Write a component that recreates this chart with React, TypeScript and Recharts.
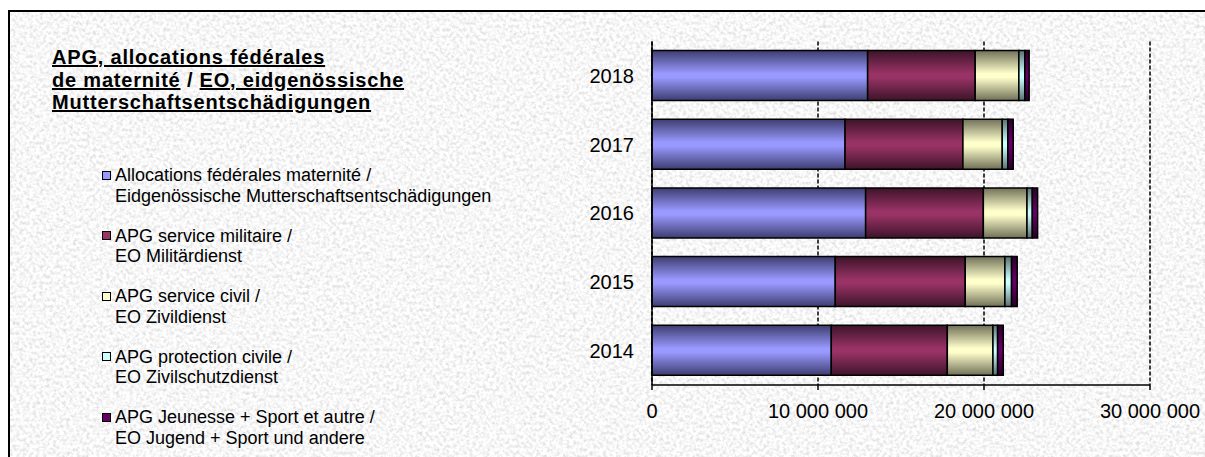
import React from "react";
import { BarChart, Bar, XAxis, YAxis, CartesianGrid } from "recharts";

const years = ["2018", "2017", "2016", "2015", "2014"];
const maternite = [12990000, 11630000, 12870000, 11040000, 10800000];
const militaire = [6480000, 7100000, 7090000, 7830000, 6990000];
const civil = [2630000, 2370000, 2630000, 2390000, 2750000];
const protection = [360000, 340000, 320000, 400000, 280000];
const jeunesse = [260000, 320000, 320000, 340000, 340000];
const xTicks = [0, 10000000, 20000000, 30000000];

const titleLines = [
  ["APG, allocations fédérales"],
  ["de maternité", "EO, eidgenössische"],
  ["Mutterschaftsentschädigungen"],
];

const series = [
  { key: "maternite", values: maternite, color: "#9999ff", dark: "#3d3d70", label1: "Allocations fédérales maternité /", label2: "Eidgenössische Mutterschaftsentschädigungen" },
  { key: "militaire", values: militaire, color: "#993366", dark: "#3d1429", label1: "APG service militaire /", label2: "EO Militärdienst" },
  { key: "civil", values: civil, color: "#ffffcc", dark: "#707058", label1: "APG service civil /", label2: "EO Zivildienst" },
  { key: "protection", values: protection, color: "#ccffff", dark: "#587070", label1: "APG protection civile /", label2: "EO Zivilschutzdienst" },
  { key: "jeunesse", values: jeunesse, color: "#660066", dark: "#290029", label1: "APG Jeunesse + Sport et autre /", label2: "EO Jugend + Sport und andere" },
];

const data = years.map((y, i) => {
  const row: Record<string, string | number> = { year: y };
  series.forEach((s) => {
    row[s.key] = s.values[i];
  });
  return row;
});

const fmt = (v: number) => String(Math.round(v)).replace(/\B(?=(\d{3})+(?!\d))/g, " ");

const FONT = "'Liberation Sans', Arial, sans-serif";

export default function App() {
  return (
    <div style={{ position: "fixed", left: 0, top: 0, width: 1300, height: 520, overflow: "hidden", fontFamily: FONT, background: "#fff" }}>
      <style>{`html,body{overflow:hidden;}`}</style>
      <div
        style={{
          position: "absolute",
          left: 8,
          top: 10,
          width: 1280,
          height: 500,
          borderTop: "2px solid #000",
          borderLeft: "2px solid #000",
          boxSizing: "border-box",
          overflow: "hidden",
          background: "#e9e9e9",
        }}
      >
        <svg width={1280} height={500} style={{ position: "absolute", left: 0, top: 0, display: "block" }}>
          <defs>
            <filter id="granite" x="0" y="0" width="1" height="1" filterUnits="objectBoundingBox">
              <feTurbulence type="fractalNoise" baseFrequency="0.3" numOctaves={3} seed={7} />
              <feColorMatrix type="matrix" values="0.6 0 0 0 0.63  0.6 0 0 0 0.63  0.6 0 0 0 0.63  0 0 0 0 1" />
            </filter>
          </defs>
          <rect x={0} y={0} width={1280} height={500} filter="url(#granite)" />
        </svg>
      </div>

      <div style={{ position: "absolute", left: 52, top: 46, fontSize: 20, fontWeight: "bold", lineHeight: "22.5px", letterSpacing: 0.8, color: "#000", whiteSpace: "nowrap" }}>
        {titleLines.map((parts, i) => (
          <div key={i}>
            {parts.map((p, j) => (
              <React.Fragment key={j}>
                {j > 0 && <span> / </span>}
                <span style={{ textDecoration: "underline" }}>{p}</span>
              </React.Fragment>
            ))}
          </div>
        ))}
      </div>

      <div style={{ position: "absolute", left: 102, top: 165, fontSize: 18, lineHeight: "20.5px", color: "#000", whiteSpace: "nowrap" }}>
        {series.map((s, i) => (
          <div key={s.key} style={{ position: "absolute", left: 0, top: i * 60.5, width: 420 }}>
            <div
              style={{
                position: "absolute",
                left: 0,
                top: 5.5,
                width: 9,
                height: 9,
                background: s.color,
                border: "1px solid #000",
                boxSizing: "border-box",
              }}
            />
            <div style={{ marginLeft: 13 }}>{s.label1}</div>
            <div style={{ marginLeft: 13 }}>{s.label2}</div>
          </div>
        ))}
      </div>

      <div style={{ position: "absolute", left: 0, top: 0 }}>
        <BarChart
          width={1205}
          height={457}
          data={data}
          layout="vertical"
          margin={{ top: 41.5, right: 55, bottom: 32, left: 560 }}
          barSize={50}
        >
          <defs>
            {series.map((s) => (
              <linearGradient key={s.key} id={`grad-${s.key}`} x1="0" y1="0" x2="0" y2="1">
                <stop offset="0%" stopColor={s.dark} />
                <stop offset="46%" stopColor={s.color} />
                <stop offset="54%" stopColor={s.color} />
                <stop offset="100%" stopColor={s.dark} />
              </linearGradient>
            ))}
          </defs>
          <CartesianGrid horizontal={false} vertical={true} stroke="#000" strokeDasharray="4 2" strokeWidth={1.5} />
          <XAxis
            type="number"
            domain={[0, 30000000]}
            ticks={xTicks}
            tickFormatter={fmt}
            height={40}
            axisLine={{ stroke: "#000", strokeWidth: 1.5 }}
            tickLine={{ stroke: "#000", strokeWidth: 1.5 }}
            tickSize={5}
            tickMargin={14}
            tick={{ fontSize: 20, fill: "#000", fontFamily: FONT }}
            interval={0}
          />
          <YAxis
            type="category"
            dataKey="year"
            width={92}
            axisLine={{ stroke: "#000", strokeWidth: 1.5 }}
            tickLine={false}
            tickSize={0}
            tickMargin={18}
            tick={{ fontSize: 20, fill: "#000", fontFamily: FONT }}
          />
          {series.map((s) => (
            <Bar
              key={s.key}
              dataKey={s.key}
              stackId="a"
              fill={`url(#grad-${s.key})`}
              stroke="#000"
              strokeWidth={1.5}
              isAnimationActive={false}
            />
          ))}
        </BarChart>
      </div>
    </div>
  );
}
